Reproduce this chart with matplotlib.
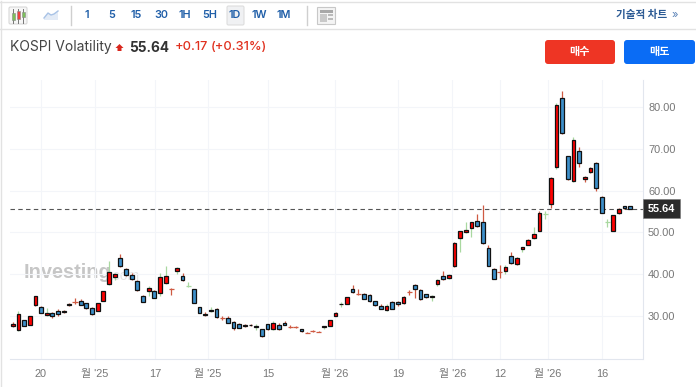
#!/usr/bin/env python3
# KOSPI Volatility daily candles, investing.com style page
import matplotlib
matplotlib.use("Agg")
import matplotlib.pyplot as plt
from matplotlib.patches import Rectangle, FancyBboxPatch, Polygon

opens = [27.4,26.6,28.9,27.8,32.6,32.0,30.1,30.6,31.1,30.8,
	32.5,33.1,33.5,33.0,31.8,31.2,33.4,37.5,39.3,43.9,
	41.1,39.7,38.4,34.8,35.8,35.8,35.4,37.8,36.3,40.6,
	39.5,37.0,36.3,32.0,30.3,31.0,31.7,29.35,29.5,28.5,
	28.1,27.4,27.85,27.4,26.7,28.0,26.7,27.8,28.2,27.2,
	27.2,26.7,25.9,26.2,26.1,27.2,27.5,29.9,32.7,32.9,
	36.5,35.2,35.2,34.9,33.5,32.4,31.4,33.3,33.3,33.1,
	35.5,37.3,36.1,35.2,34.4,37.7,39.4,39.0,41.9,48.7,
	50.0,51.1,52.7,52.5,46.3,41.1,40.5,40.6,44.2,42.3,
	45.9,47.0,48.5,50.4,54.3,56.7,65.7,82.1,68.2,62.2,
	69.4,62.7,64.4,66.5,58.4,52.4,50.4,54.6,56.3,56.2]
closes = [28.1,30.3,27.5,29.8,34.6,30.7,30.6,29.8,30.5,31.2,
	32.9,33.2,32.6,31.8,30.3,33.0,35.8,40.4,40.1,41.8,
	39.7,38.7,36.1,33.3,36.7,34.3,39.2,39.4,36.4,41.4,
	38.6,37.1,33.0,30.7,30.1,31.4,29.6,29.45,28.2,27.0,
	27.1,27.8,27.65,27.2,25.0,26.7,28.2,26.7,27.8,27.3,
	27.3,26.2,26.0,26.3,26.2,27.4,28.9,30.6,32.9,34.4,
	35.6,35.3,34.1,33.5,32.5,31.7,32.2,31.6,32.9,34.5,
	35.6,36.3,33.9,34.4,34.8,38.5,38.7,39.7,47.5,50.2,
	50.6,52.4,51.4,47.3,42.0,38.8,40.6,41.6,42.5,43.9,
	46.4,48.1,49.6,54.6,54.4,63.1,80.4,73.9,62.7,72.0,
	66.7,63.3,65.3,60.7,54.6,52.5,54.1,55.5,55.7,55.64]
highs = [28.4,31.1,29.0,29.9,34.7,32.3,31.8,30.8,31.5,31.4,
	33.1,34.2,33.9,33.1,32.0,33.1,35.9,43.2,40.3,44.8,
	41.4,40.2,38.6,35.0,37.0,36.2,40.2,41.9,36.6,41.6,
	40.3,38.0,36.4,32.1,30.8,32.1,31.8,29.8,29.8,28.6,
	28.2,27.9,27.9,28.1,26.8,28.1,28.6,28.2,28.6,27.8,
	27.6,26.8,26.0,26.6,26.2,27.4,29.0,30.8,33.2,34.5,
	37.3,36.4,35.4,35.3,33.6,32.7,32.9,33.4,33.6,34.7,
	36.1,37.5,36.3,35.3,34.9,38.9,40.6,40.1,47.6,50.4,
	52.5,52.5,54.4,56.6,46.9,41.4,42.1,42.1,45.2,44.1,
	46.5,48.3,51.2,55.1,55.1,63.2,81.1,83.9,68.3,72.9,
	70.5,63.5,65.6,66.9,58.6,53.1,54.2,55.7,56.4,56.3]
lows = [27.2,26.2,27.4,27.7,32.2,30.6,29.9,29.4,29.9,30.7,
	32.2,32.8,32.5,31.7,30.2,31.1,33.4,37.4,38.6,41.7,
	39.5,38.6,36.0,33.2,34.6,34.2,34.7,37.7,35.0,39.9,
	38.4,36.8,33.0,30.6,29.9,30.9,29.5,29.0,28.2,26.6,
	27.0,27.3,27.6,26.6,24.9,26.6,26.6,26.6,27.7,27.1,
	27.1,26.1,25.9,26.1,26.1,26.9,27.4,29.8,32.1,32.8,
	35.5,34.9,34.1,33.3,32.4,31.5,31.0,31.5,32.3,32.9,
	34.9,34.2,33.8,34.3,33.6,37.0,38.6,38.9,41.7,45.3,
	49.9,48.9,51.3,47.2,41.8,38.7,39.1,40.1,42.4,42.2,
	45.2,46.9,48.4,50.3,53.1,55.7,65.1,73.5,62.6,62.1,
	65.6,62.1,64.1,60.0,54.5,51.2,50.4,54.3,55.6,55.6]
# candles whose wick shows green in the picture, the others are red
green_wicks = [1,6,17,18,24,26,27,29,31,35,43,46,55,58,66,74,75,77,79,80,81,87,90,92,94,96,99,105]

x_tick_pos = [5, 14.5, 25.1, 34.5, 45.1, 56.9, 68.1, 77.6, 86.1, 94.5, 104.1]
x_tick_labels = ["20", "월 '25", "17", "월 '25", "15", "월 '26", "19", "월 '26", "12", "월 '26", "16"]
y_ticks = [30, 40, 50, 60, 70, 80]
last_price = 55.64
timeframes = ["1", "5", "15", "30", "1H", "5H", "1D", "1W", "1M"]

plt.rcParams['font.family'] = ['Inter', 'Noto Sans CJK KR', 'DejaVu Sans']
axis_font = ['Liberation Sans', 'Noto Sans CJK KR']

W, H = 696, 387
fig = plt.figure(figsize=(W/100, H/100), dpi=100, facecolor='white')

# page chrome in pixel coords, sits under the chart
page = fig.add_axes([0, 0, 1, 1], zorder=0)
page.set_xlim(0, W)
page.set_ylim(H, 0)
page.axis('off')

for yy in (1.5, 29):
	page.plot([0, W], [yy, yy], color='#e2e2e2', lw=1)
page.plot([0.5, 0.5], [1, H], color='#e2e2e2', lw=1)
for xx in (70.5, 306.5):
	page.plot([xx, xx], [6, 25], color='#cfcfcf', lw=1)

# candle icon
page.add_patch(FancyBboxPatch((9, 7), 18, 17, boxstyle="round,pad=0,rounding_size=1.5", fc='#f6f6f6', ec='#d8d8d8', lw=0.8))
for xx, top, bot, col in [(13, 13, 20, '#7cc05a'), (18, 11, 19, '#ef4040'), (23, 12, 17, '#7cc05a')]:
	page.plot([xx, xx], [9, 23], color='#777777', lw=0.7)
	page.add_patch(Rectangle((xx-1.5, top), 3, bot-top, fc=col, ec='#888888', lw=0.4, zorder=3))
# line icon
line_x = [44, 48, 51, 54, 58]
line_y = [18, 13, 15, 14, 11]
page.add_patch(Polygon(list(zip(line_x, line_y)) + [(58, 20), (44, 20)], fc='#e3ebf6', ec='none'))
page.plot(line_x, line_y, color='#a9c3e6', lw=1)

page.add_patch(FancyBboxPatch((227, 6), 17, 19, boxstyle="round,pad=0,rounding_size=1.5", fc='#f0f1f3', ec='#dddddd', lw=0.8))
for label, xx in zip(timeframes, [87, 112, 136, 161, 185, 210, 235, 259, 284]):
	page.text(xx, 15.5, label, color='#1f5ea8', fontsize=7.8, fontweight='semibold', ha='center', va='center')

# layout icon
page.add_patch(Rectangle((317, 7), 18, 17, fc='#f4f4f4', ec='#c8c8c8', lw=0.8))
page.add_patch(Rectangle((319.5, 9.5), 13, 3, fc='#a8a8a8', ec='none'))
page.add_patch(Rectangle((319.5, 14), 7, 7.5, fc='#c9c9c9', ec='none'))
page.add_patch(Rectangle((328, 14), 4.5, 2, fc='#bbbbbb', ec='none'))
page.add_patch(Rectangle((328, 18), 4.5, 2, fc='#bbbbbb', ec='none'))

page.text(667, 15, "기술적 차트", color='#2b5a94', fontsize=7.6, fontweight='bold', ha='right', va='center')
page.text(675, 15, "»", color='#5b83b8', fontsize=8, ha='center', va='center')

page.text(10, 47, "KOSPI Volatility", color='#444444', fontsize=10, ha='left', va='center')
page.add_patch(Polygon([(119.5, 44), (123.5, 48), (121.5, 48), (121.5, 51), (117.5, 51), (117.5, 48), (115.5, 48)], fc='#d9261c', ec='none'))
page.text(129, 47.5, f"{last_price:.2f}", color='#333333', fontsize=9.8, fontweight='bold', ha='left', va='center')
page.text(174.5, 46.5, "+0.17", color='#e0301e', fontsize=9.2, fontweight='medium', ha='left', va='center')
page.text(211, 46.5, "(+0.31%)", color='#e0301e', fontsize=9.2, fontweight='medium', ha='left', va='center')

page.add_patch(FancyBboxPatch((545, 40), 70, 24, boxstyle="round,pad=0,rounding_size=3", fc='#ee3524', ec='none'))
page.add_patch(FancyBboxPatch((624, 40), 71, 24, boxstyle="round,pad=0,rounding_size=3", fc='#0a6cf5', ec='none'))
page.text(580, 52, "매수", color='white', fontsize=8, fontweight='bold', ha='center', va='center')
page.text(659, 52, "매도", color='white', fontsize=8, fontweight='bold', ha='center', va='center')

# watermark
page.text(24, 272, "Investing", color='#c6c6c6', fontsize=14.4, fontweight='bold', family='Liberation Sans', ha='left', va='center')
page.text(110, 275.5, ".com", color='#e4e4e4', fontsize=10, family='Liberation Sans', ha='left', va='center')

# chart
left, right, top, bottom = 10, 642.5, 80, 359
ax = fig.add_axes([left/W, 1-bottom/H, (right-left)/W, (bottom-top)/H], zorder=1)
ax.patch.set_alpha(0)
ax.set_xlim(-0.48, 111.2)
ax.set_ylim(19.6, 86.5)
for s in ('top', 'left'):
	ax.spines[s].set_visible(False)
for s in ('bottom', 'right'):
	ax.spines[s].set_color('#e2e6ee')
ax.grid(True, color='#f3f5f9', lw=0.8)
ax.set_axisbelow(True)
ax.yaxis.tick_right()
ax.set_yticks(y_ticks)
ax.set_yticklabels([f"{v:.2f}" for v in y_ticks], family=axis_font)
ax.set_xticks(x_tick_pos)
ax.set_xticklabels(x_tick_labels, family=axis_font)
ax.tick_params(axis='both', length=0, labelsize=7.9, labelcolor='#777777')
ax.tick_params(axis='y', pad=4)
ax.tick_params(axis='x', pad=7)

ax.axhline(last_price, color='#555555', lw=0.8, dashes=(4, 3), zorder=2)

for i in range(len(opens)):
	o, c = opens[i], closes[i]
	wick = '#a9d8a0' if i in green_wicks else '#cf5a42'
	ax.vlines(i, lows[i], highs[i], color=wick, lw=0.9, zorder=3)
	if abs(o-c) < 0.15:
		# doji, just a small cross in the wick colour
		ax.hlines((o+c)/2, i-0.45, i+0.45, color=wick, lw=0.9, zorder=3)
		continue
	fill = '#ff0000' if c > o else '#3d8fca'
	ax.bar(i, abs(c-o), bottom=min(o, c), width=0.66, color=fill, edgecolor='#111111', lw=0.9, zorder=4)

ax.text(1.0085, last_price, f"{last_price:.2f}", transform=ax.get_yaxis_transform(), color='white',
	fontsize=7.9, family=axis_font, fontweight='bold', ha='left', va='center', zorder=6, clip_on=False,
	bbox=dict(fc='#2a2a2a', ec='#777777', lw=0.4, boxstyle='square,pad=0.42'))

fig.savefig("out.png", dpi=100)
